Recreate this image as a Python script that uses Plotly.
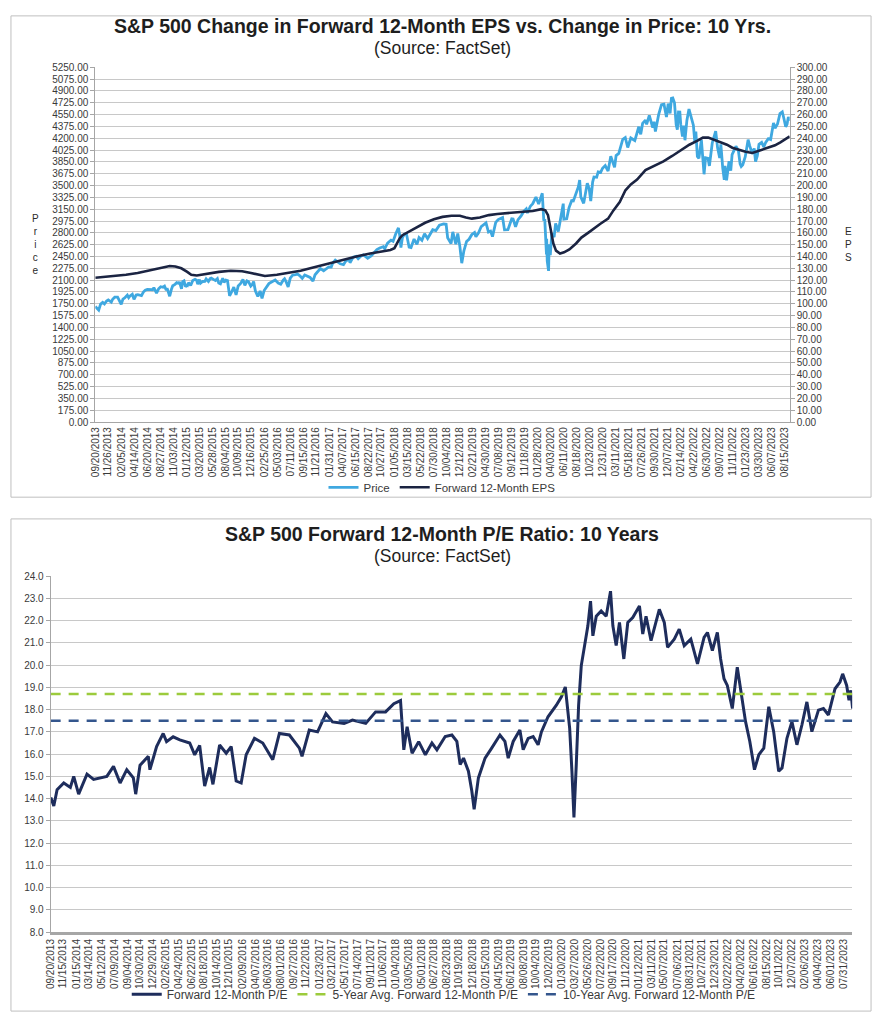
import pandas as pd
import plotly.graph_objects as go

# ---------------- data ----------------
TOP_TICKS = ["09/20/2013", "11/26/2013", "02/05/2014", "04/14/2014", "06/20/2014", "08/27/2014",
             "11/03/2014", "01/12/2015", "03/20/2015", "05/28/2015", "08/04/2015", "10/09/2015",
             "12/16/2015", "02/25/2016", "05/03/2016", "07/11/2016", "09/15/2016", "11/21/2016",
             "01/31/2017", "04/07/2017", "06/15/2017", "08/22/2017", "10/27/2017", "01/05/2018",
             "03/15/2018", "05/22/2018", "07/30/2018", "10/04/2018", "12/12/2018", "02/21/2019",
             "04/30/2019", "07/08/2019", "09/12/2019", "11/18/2019", "01/28/2020", "04/03/2020",
             "06/11/2020", "08/18/2020", "10/23/2020", "12/31/2020", "03/11/2021", "05/18/2021",
             "07/26/2021", "09/30/2021", "12/07/2021", "02/14/2022", "04/22/2022", "06/30/2022",
             "09/07/2022", "11/11/2022", "01/23/2023", "03/30/2023", "06/07/2023", "08/15/2023"]

BOTTOM_TICKS = ["09/20/2013", "11/15/2013", "01/15/2014", "03/14/2014", "05/12/2014", "07/09/2014",
                "09/04/2014", "10/30/2014", "12/29/2014", "02/26/2015", "04/24/2015", "06/22/2015",
                "08/18/2015", "10/14/2015", "12/10/2015", "02/09/2016", "04/07/2016", "06/03/2016",
                "08/01/2016", "09/27/2016", "11/22/2016", "01/23/2017", "03/21/2017", "05/17/2017",
                "07/14/2017", "09/11/2017", "11/06/2017", "01/04/2018", "03/05/2018", "05/01/2018",
                "06/27/2018", "08/23/2018", "10/19/2018", "12/18/2018", "02/15/2019", "04/15/2019",
                "06/12/2019", "08/08/2019", "10/04/2019", "12/02/2019", "01/30/2020", "03/27/2020",
                "05/26/2020", "07/22/2020", "09/17/2020", "11/12/2020", "01/12/2021", "03/11/2021",
                "05/07/2021", "07/06/2021", "08/31/2021", "10/27/2021", "12/23/2021", "02/22/2022",
                "04/20/2022", "06/16/2022", "08/15/2022", "10/11/2022", "12/07/2022", "02/06/2023",
                "04/04/2023", "06/01/2023", "07/31/2023"]

price_points = [
    ("2013-09-20", 1710), ("2013-09-30", 1682), ("2013-10-08", 1656), ("2013-10-18", 1745), ("2013-10-29", 1771),
    ("2013-11-07", 1748), ("2013-11-18", 1792), ("2013-11-27", 1807), ("2013-12-05", 1785), ("2013-12-13", 1775),
    ("2013-12-20", 1818), ("2013-12-31", 1848),
    ("2014-01-15", 1848), ("2014-01-24", 1790), ("2014-02-03", 1741), ("2014-02-12", 1819), ("2014-02-21", 1836),
    ("2014-03-07", 1878), ("2014-03-14", 1841), ("2014-03-21", 1866), ("2014-04-02", 1890), ("2014-04-11", 1815),
    ("2014-04-22", 1879), ("2014-05-01", 1884), ("2014-05-09", 1878), ("2014-05-20", 1872), ("2014-05-30", 1924),
    ("2014-06-09", 1951), ("2014-06-20", 1963), ("2014-06-30", 1960), ("2014-07-08", 1963), ("2014-07-17", 1958),
    ("2014-07-24", 1988), ("2014-08-01", 1925), ("2014-08-07", 1909), ("2014-08-18", 1971), ("2014-08-29", 2003),
    ("2014-09-10", 1995), ("2014-09-18", 2011), ("2014-09-25", 1965), ("2014-10-03", 1967), ("2014-10-10", 1906),
    ("2014-10-15", 1862), ("2014-10-24", 1964), ("2014-10-31", 2018), ("2014-11-12", 2038), ("2014-11-21", 2063),
    ("2014-12-01", 2054), ("2014-12-05", 2075), ("2014-12-16", 1972), ("2014-12-22", 2078), ("2014-12-29", 2090),
    ("2015-01-06", 2003), ("2015-01-13", 2023), ("2015-01-16", 2019), ("2015-01-22", 2063), ("2015-02-02", 2020),
    ("2015-02-13", 2096), ("2015-02-25", 2113), ("2015-03-05", 2101), ("2015-03-11", 2040), ("2015-03-20", 2108),
    ("2015-03-26", 2056), ("2015-04-06", 2080), ("2015-04-17", 2081), ("2015-04-24", 2117), ("2015-05-06", 2080),
    ("2015-05-15", 2122), ("2015-05-21", 2131), ("2015-06-01", 2111), ("2015-06-12", 2094), ("2015-06-22", 2122),
    ("2015-06-29", 2057), ("2015-07-08", 2046), ("2015-07-20", 2128), ("2015-07-27", 2068), ("2015-08-05", 2100),
    ("2015-08-14", 2092), ("2015-08-21", 1971), ("2015-08-25", 1867), ("2015-09-04", 1921), ("2015-09-16", 1996),
    ("2015-09-28", 1881), ("2015-10-09", 2014), ("2015-10-22", 2052), ("2015-11-03", 2109), ("2015-11-13", 2023),
    ("2015-11-24", 2089), ("2015-12-02", 2080), ("2015-12-09", 2047), ("2015-12-14", 2013), ("2015-12-22", 2038),
    ("2015-12-29", 2078),
    ("2016-01-07", 1943), ("2016-01-15", 1880), ("2016-01-20", 1859), ("2016-02-01", 1940), ("2016-02-11", 1829),
    ("2016-02-22", 1946), ("2016-03-04", 2000), ("2016-03-18", 2049), ("2016-04-01", 2073), ("2016-04-20", 2102),
    ("2016-05-06", 2057), ("2016-05-19", 2040), ("2016-06-01", 2100), ("2016-06-08", 2119), ("2016-06-16", 2077),
    ("2016-06-27", 2000), ("2016-07-08", 2130), ("2016-07-20", 2173), ("2016-08-05", 2183), ("2016-08-15", 2190),
    ("2016-08-26", 2169), ("2016-09-09", 2127), ("2016-09-22", 2177), ("2016-10-06", 2160), ("2016-10-20", 2141),
    ("2016-11-04", 2085), ("2016-11-15", 2180), ("2016-11-25", 2213), ("2016-12-13", 2271), ("2016-12-30", 2239),
    ("2017-01-13", 2274), ("2017-01-26", 2296), ("2017-02-08", 2294), ("2017-02-15", 2349), ("2017-03-01", 2396),
    ("2017-03-14", 2365), ("2017-03-27", 2342), ("2017-04-13", 2329), ("2017-04-26", 2387), ("2017-05-15", 2402),
    ("2017-05-17", 2357), ("2017-06-02", 2439), ("2017-06-19", 2453), ("2017-06-29", 2419), ("2017-07-14", 2459),
    ("2017-07-27", 2475), ("2017-08-10", 2438), ("2017-08-18", 2425), ("2017-09-05", 2457), ("2017-09-20", 2508),
    ("2017-10-05", 2552), ("2017-10-20", 2575), ("2017-11-08", 2594), ("2017-11-15", 2564), ("2017-11-30", 2648),
    ("2017-12-18", 2690), ("2017-12-29", 2674),
    ("2018-01-12", 2786), ("2018-01-26", 2873), ("2018-02-02", 2762), ("2018-02-08", 2581), ("2018-02-16", 2732),
    ("2018-02-26", 2780), ("2018-03-09", 2786), ("2018-03-23", 2588), ("2018-04-02", 2582), ("2018-04-18", 2708),
    ("2018-05-03", 2630), ("2018-05-14", 2730), ("2018-05-29", 2690), ("2018-06-12", 2787), ("2018-06-28", 2716),
    ("2018-07-13", 2801), ("2018-07-25", 2846), ("2018-08-10", 2833), ("2018-08-29", 2914), ("2018-09-20", 2931),
    ("2018-10-03", 2926), ("2018-10-11", 2728), ("2018-10-29", 2641), ("2018-11-07", 2814), ("2018-11-23", 2633),
    ("2018-12-03", 2790), ("2018-12-14", 2600), ("2018-12-24", 2351),
    ("2019-01-04", 2532), ("2019-01-18", 2671), ("2019-01-31", 2704), ("2019-02-15", 2776), ("2019-03-01", 2804),
    ("2019-03-08", 2743), ("2019-03-22", 2801), ("2019-04-05", 2893), ("2019-04-23", 2934), ("2019-04-30", 2946),
    ("2019-05-13", 2812), ("2019-05-24", 2826), ("2019-06-03", 2744), ("2019-06-20", 2954), ("2019-07-03", 2996),
    ("2019-07-26", 3025), ("2019-08-05", 2844), ("2019-08-14", 2840), ("2019-08-23", 2847), ("2019-09-12", 3009),
    ("2019-09-19", 3006), ("2019-10-02", 2888), ("2019-10-15", 2996), ("2019-10-30", 3046), ("2019-11-15", 3120),
    ("2019-11-27", 3153), ("2019-12-03", 3093), ("2019-12-18", 3191), ("2019-12-31", 3231),
    ("2020-01-17", 3330), ("2020-01-31", 3225), ("2020-02-19", 3386), ("2020-02-27", 2979), ("2020-03-03", 3003),
    ("2020-03-09", 2747), ("2020-03-12", 2481), ("2020-03-13", 2711), ("2020-03-16", 2386), ("2020-03-23", 2237),
    ("2020-03-26", 2630), ("2020-04-01", 2471), ("2020-04-09", 2790), ("2020-04-21", 2737), ("2020-04-29", 2940),
    ("2020-05-13", 2820), ("2020-05-27", 3036), ("2020-06-08", 3232), ("2020-06-11", 3002), ("2020-06-26", 3009),
    ("2020-07-08", 3170), ("2020-07-22", 3276), ("2020-07-31", 3271), ("2020-08-14", 3373), ("2020-08-26", 3479),
    ("2020-09-02", 3580), ("2020-09-08", 3332), ("2020-09-23", 3237), ("2020-10-12", 3534), ("2020-10-22", 3453),
    ("2020-10-30", 3270), ("2020-11-09", 3551), ("2020-11-16", 3627), ("2020-11-30", 3622), ("2020-12-08", 3702),
    ("2020-12-21", 3694), ("2020-12-31", 3756),
    ("2021-01-14", 3795), ("2021-01-29", 3714), ("2021-02-12", 3934), ("2021-03-04", 3768), ("2021-03-12", 3943),
    ("2021-03-26", 3975), ("2021-04-16", 4185), ("2021-04-29", 4211), ("2021-05-12", 4063), ("2021-05-28", 4204),
    ("2021-06-18", 4166), ("2021-06-29", 4291), ("2021-07-09", 4370), ("2021-07-19", 4258), ("2021-07-29", 4419),
    ("2021-08-13", 4468), ("2021-08-19", 4405), ("2021-09-02", 4537), ("2021-09-20", 4358), ("2021-09-27", 4443),
    ("2021-10-04", 4300), ("2021-10-21", 4549), ("2021-11-05", 4697), ("2021-11-18", 4704), ("2021-11-30", 4567),
    ("2021-12-01", 4513), ("2021-12-10", 4712), ("2021-12-20", 4568), ("2021-12-27", 4791),
    ("2022-01-03", 4796), ("2022-01-12", 4726), ("2022-01-21", 4398), ("2022-01-27", 4327), ("2022-02-02", 4589),
    ("2022-02-09", 4587), ("2022-02-14", 4401), ("2022-02-23", 4225), ("2022-03-02", 4387), ("2022-03-08", 4170),
    ("2022-03-18", 4463), ("2022-03-29", 4631), ("2022-04-13", 4447), ("2022-04-21", 4394), ("2022-04-29", 4132),
    ("2022-05-04", 4300), ("2022-05-12", 3930), ("2022-05-20", 3901), ("2022-06-02", 4176), ("2022-06-10", 3901),
    ("2022-06-16", 3667), ("2022-06-24", 3912), ("2022-07-07", 3902), ("2022-07-14", 3790), ("2022-07-29", 4130),
    ("2022-08-16", 4305), ("2022-08-26", 4058), ("2022-09-06", 3908), ("2022-09-12", 4110), ("2022-09-22", 3758),
    ("2022-09-30", 3586), ("2022-10-04", 3791), ("2022-10-12", 3577), ("2022-10-25", 3859), ("2022-11-03", 3720),
    ("2022-11-10", 3956), ("2022-11-30", 4080), ("2022-12-13", 4019), ("2022-12-22", 3822), ("2022-12-28", 3783),
    ("2023-01-05", 3808), ("2023-01-18", 3928), ("2023-01-27", 4071), ("2023-02-02", 4179), ("2023-02-10", 4090),
    ("2023-02-24", 3970), ("2023-03-06", 4048), ("2023-03-13", 3855), ("2023-03-22", 3937), ("2023-03-31", 4109),
    ("2023-04-14", 4138), ("2023-04-25", 4071), ("2023-05-05", 4136), ("2023-05-19", 4192), ("2023-05-31", 4180),
    ("2023-06-15", 4426), ("2023-06-23", 4348), ("2023-07-06", 4411), ("2023-07-19", 4565), ("2023-07-31", 4589),
    ("2023-08-08", 4499), ("2023-08-18", 4370), ("2023-08-25", 4406), ("2023-09-01", 4516), ("2023-09-08", 4457),
]

eps_points = [
    ("2013-09-20", 122.0), ("2013-10-31", 122.5), ("2013-12-31", 123.5), ("2014-02-28", 124.5),
    ("2014-04-30", 126.0), ("2014-06-30", 128.0), ("2014-08-29", 130.5), ("2014-10-15", 132.0),
    ("2014-11-14", 131.5), ("2014-12-15", 130.0), ("2015-01-15", 127.0), ("2015-02-05", 124.5),
    ("2015-03-06", 124.0), ("2015-04-30", 125.5), ("2015-06-30", 127.0), ("2015-08-31", 128.0),
    ("2015-10-30", 127.5), ("2015-12-15", 126.0), ("2016-01-29", 124.5), ("2016-02-26", 123.5),
    ("2016-04-29", 124.5), ("2016-06-30", 126.0), ("2016-08-31", 128.0), ("2016-10-31", 130.5),
    ("2016-12-30", 133.0), ("2017-02-15", 135.5), ("2017-04-28", 138.0), ("2017-06-30", 140.5),
    ("2017-08-31", 142.5), ("2017-10-31", 144.0), ("2017-12-15", 145.5), ("2018-01-05", 147.0),
    ("2018-01-19", 151.0), ("2018-02-02", 155.5), ("2018-02-16", 158.0), ("2018-03-16", 160.5),
    ("2018-04-30", 164.0), ("2018-06-15", 168.5), ("2018-07-31", 171.5), ("2018-09-14", 173.5),
    ("2018-10-31", 174.5), ("2018-12-14", 174.5), ("2019-01-15", 173.0), ("2019-02-15", 172.0),
    ("2019-03-29", 173.0), ("2019-05-15", 175.0), ("2019-06-28", 176.0), ("2019-08-30", 177.0),
    ("2019-10-31", 178.0), ("2019-12-31", 178.5), ("2020-02-14", 180.0), ("2020-03-06", 179.0),
    ("2020-03-20", 175.0), ("2020-04-03", 162.0), ("2020-04-17", 151.0), ("2020-05-01", 145.0),
    ("2020-05-22", 142.5), ("2020-06-12", 143.5), ("2020-07-10", 146.0), ("2020-08-14", 151.0),
    ("2020-09-11", 156.0), ("2020-10-16", 160.0), ("2020-11-20", 164.5), ("2020-12-18", 167.5),
    ("2021-01-29", 172.0), ("2021-02-26", 179.0), ("2021-03-31", 186.0), ("2021-04-30", 196.0),
    ("2021-05-28", 201.0), ("2021-06-30", 205.0), ("2021-08-13", 213.0), ("2021-09-30", 216.5),
    ("2021-11-15", 220.5), ("2021-12-31", 225.0), ("2022-02-15", 230.0), ("2022-03-31", 234.5),
    ("2022-05-13", 238.0), ("2022-06-10", 240.5), ("2022-07-08", 240.5), ("2022-08-12", 238.5),
    ("2022-09-09", 237.0), ("2022-10-14", 234.5), ("2022-11-11", 232.0), ("2022-12-16", 230.0),
    ("2023-01-20", 228.5), ("2023-02-24", 227.5), ("2023-03-24", 229.0), ("2023-04-28", 230.5),
    ("2023-05-26", 232.0), ("2023-06-23", 234.0), ("2023-07-21", 236.5), ("2023-08-18", 239.0),
    ("2023-09-08", 241.5),
]

# (decimal year, forward P/E)
pe_points = [
    (2013.720, 14.05), (2013.757, 13.67), (2013.798, 14.40), (2013.881, 14.70), (2013.963, 14.50),
    (2014.005, 15.00), (2014.066, 14.20), (2014.170, 15.10), (2014.252, 14.86), (2014.417, 15.00),
    (2014.500, 15.45), (2014.582, 14.70), (2014.665, 15.30), (2014.747, 14.93), (2014.776, 14.20),
    (2014.830, 15.50), (2014.933, 15.90), (2014.953, 15.30), (2015.036, 16.34), (2015.118, 16.93),
    (2015.160, 16.56), (2015.242, 16.78), (2015.325, 16.64), (2015.448, 16.50), (2015.510, 15.97),
    (2015.572, 16.39), (2015.634, 14.56), (2015.696, 15.40), (2015.737, 14.64), (2015.820, 16.41),
    (2015.902, 16.04), (2015.964, 16.34), (2016.026, 14.79), (2016.088, 14.70), (2016.150, 15.97),
    (2016.253, 16.71), (2016.356, 16.50), (2016.480, 15.75), (2016.562, 16.93), (2016.686, 16.86),
    (2016.810, 16.27), (2016.843, 15.90), (2016.933, 17.08), (2017.036, 17.00), (2017.140, 17.82),
    (2017.222, 17.45), (2017.366, 17.38), (2017.470, 17.53), (2017.635, 17.38), (2017.758, 17.90),
    (2017.882, 17.90), (2017.985, 18.27), (2018.068, 18.41), (2018.088, 17.16), (2018.109, 16.19),
    (2018.150, 17.23), (2018.212, 16.04), (2018.294, 16.56), (2018.377, 15.97), (2018.459, 16.50),
    (2018.521, 16.19), (2018.624, 16.79), (2018.707, 16.86), (2018.769, 16.57), (2018.810, 15.53),
    (2018.852, 15.82), (2018.913, 15.23), (2018.955, 14.34), (2018.984, 13.52), (2019.037, 14.93),
    (2019.120, 15.82), (2019.202, 16.27), (2019.305, 16.86), (2019.367, 16.57), (2019.408, 15.82),
    (2019.470, 16.57), (2019.553, 17.09), (2019.594, 16.20), (2019.656, 16.71), (2019.718, 16.79),
    (2019.780, 16.42), (2019.821, 17.00), (2019.903, 17.68), (2020.007, 18.20), (2020.068, 18.57),
    (2020.118, 19.02), (2020.143, 18.20), (2020.172, 17.16), (2020.200, 15.23), (2020.225, 13.15),
    (2020.254, 15.53), (2020.283, 18.20), (2020.316, 19.98), (2020.357, 20.88), (2020.398, 21.77),
    (2020.431, 22.88), (2020.460, 21.32), (2020.502, 22.20), (2020.563, 22.44), (2020.625, 22.20),
    (2020.679, 23.33), (2020.708, 21.77), (2020.749, 20.88), (2020.790, 21.92), (2020.844, 20.28),
    (2020.893, 21.92), (2020.955, 22.14), (2021.038, 22.66), (2021.079, 21.40), (2021.120, 22.20),
    (2021.182, 21.10), (2021.285, 22.51), (2021.347, 21.92), (2021.388, 20.80), (2021.471, 21.17),
    (2021.533, 21.62), (2021.595, 20.88), (2021.677, 21.17), (2021.760, 20.06), (2021.842, 21.25),
    (2021.884, 21.47), (2021.945, 20.65), (2022.007, 21.47), (2022.048, 20.28), (2022.090, 19.39),
    (2022.131, 19.09), (2022.193, 18.05), (2022.255, 19.91), (2022.296, 18.94), (2022.358, 17.46),
    (2022.411, 16.57), (2022.469, 15.30), (2022.523, 15.97), (2022.585, 16.27), (2022.647, 18.13),
    (2022.708, 17.01), (2022.770, 15.23), (2022.812, 15.38), (2022.873, 16.71), (2022.935, 17.46),
    (2022.997, 16.42), (2023.059, 17.31), (2023.121, 18.35), (2023.183, 17.01), (2023.265, 17.98),
    (2023.327, 18.05), (2023.389, 17.76), (2023.471, 18.94), (2023.533, 19.24), (2023.566, 19.61),
    (2023.616, 19.09), (2023.645, 18.42), (2023.668, 18.87), (2023.690, 18.05),
]

PE_5Y_AVG = 18.7
PE_10Y_AVG = 17.5


# ---------------- helpers ----------------
def year_to_date(y):
    yr = int(y)
    start = pd.Timestamp(yr, 1, 1)
    length = (pd.Timestamp(yr + 1, 1, 1) - start).days
    return start + pd.Timedelta(days=(y - yr) * length)


price_x = pd.to_datetime([d for d, _ in price_points])
price_y = [v for _, v in price_points]
eps_x = pd.to_datetime([d for d, _ in eps_points])
eps_y = [v for _, v in eps_points]
pe_x = [year_to_date(y) for y, _ in pe_points]
pe_y = [v for _, v in pe_points]

x_start = price_x.min()
x_end = price_x.max()

top_tick_vals = pd.to_datetime(TOP_TICKS, format="%m/%d/%Y")
bot_tick_vals = pd.to_datetime(BOTTOM_TICKS, format="%m/%d/%Y")

FONT = "Liberation Sans, Arial, sans-serif"
GRID = "#C8C8C8"
AXC = "#A6A6A6"
TXT = "#3A3A3A"
TITLE_C = "#1E1E1E"
PRICE_C = "#3FA8E0"
EPS_C = "#1B2442"
PE_C = "#1E2D5C"
AVG5_C = "#9CCB3C"
AVG10_C = "#34568D"

fig = go.Figure()

fig.add_trace(go.Scatter(x=price_x, y=price_y, name="Price", mode="lines",
                         line=dict(color=PRICE_C, width=2.8), xaxis="x", yaxis="y",
                         legend="legend"))
fig.add_trace(go.Scatter(x=eps_x, y=eps_y, name="Forward 12-Month EPS", mode="lines",
                         line=dict(color=EPS_C, width=2.6), xaxis="x", yaxis="y2",
                         legend="legend"))

fig.add_trace(go.Scatter(x=pe_x, y=pe_y, name="Forward 12-Month P/E", mode="lines",
                         line=dict(color=PE_C, width=3), xaxis="x2", yaxis="y3",
                         legend="legend2"))
fig.add_trace(go.Scatter(x=[x_start, x_end], y=[PE_5Y_AVG, PE_5Y_AVG],
                         name="5-Year Avg. Forward 12-Month P/E", mode="lines",
                         line=dict(color=AVG5_C, width=2.5, dash="10px,8px"),
                         xaxis="x2", yaxis="y3", legend="legend2"))
fig.add_trace(go.Scatter(x=[x_start, x_end], y=[PE_10Y_AVG, PE_10Y_AVG],
                         name="10-Year Avg. Forward 12-Month P/E", mode="lines",
                         line=dict(color=AVG10_C, width=2.5, dash="10px,8px"),
                         xaxis="x2", yaxis="y3", legend="legend2"))

W, H = 879, 1024


def px_x(p):
    return p / W


def px_y(p):
    return 1 - p / H


tickfont = dict(family=FONT, size=10, color=TXT)

fig.update_layout(
    width=W, height=H,
    margin=dict(l=0, r=0, t=0, b=0),
    paper_bgcolor="white", plot_bgcolor="white",
    font=dict(family=FONT, size=10, color=TXT),
    hovermode=False,
    xaxis=dict(domain=[px_x(90), px_x(790)], anchor="y", type="date",
               range=[x_start, x_end], tickmode="array", tickvals=top_tick_vals,
               ticktext=TOP_TICKS, tickangle=-90, tickfont=tickfont, showgrid=False,
               showline=True, linecolor=AXC, linewidth=1, ticks="", zeroline=False),
    yaxis=dict(domain=[px_y(421), px_y(62)], anchor="x", range=[0, 5250], tick0=0, dtick=175,
               tickformat=".2f", tickfont=tickfont, showgrid=True, gridcolor=GRID, gridwidth=1,
               showline=True, linecolor=AXC, ticks="outside", ticklen=4, tickcolor=AXC,
               zeroline=False),
    yaxis2=dict(overlaying="y", side="right", anchor="x", range=[0, 300], tick0=0, dtick=10,
                tickformat=".2f", tickfont=tickfont, showgrid=False, showline=True,
                linecolor=AXC, ticks="outside", ticklen=4, tickcolor=AXC, zeroline=False),
    xaxis2=dict(domain=[px_x(45), px_x(853)], anchor="y3", type="date",
                range=[x_start, x_end], tickmode="array", tickvals=bot_tick_vals,
                ticktext=BOTTOM_TICKS, tickangle=-90, tickfont=tickfont, showgrid=False,
                showline=True, linecolor=AXC, linewidth=3, ticks="", zeroline=False),
    yaxis3=dict(domain=[px_y(937), px_y(577)], anchor="x2", range=[8, 24], tick0=8, dtick=1,
                tickformat=".1f", tickfont=tickfont, showgrid=True, gridcolor=GRID, gridwidth=1,
                showline=True, linecolor=AXC, ticks="outside", ticklen=4, tickcolor=AXC,
                zeroline=False),
    legend=dict(orientation="h", x=0.5, xanchor="center", y=px_y(487), yanchor="middle",
                font=dict(family=FONT, size=11.5, color=TXT), bgcolor="rgba(0,0,0,0)",
                itemwidth=30, tracegroupgap=0),
    legend2=dict(orientation="h", x=0.502, xanchor="center", y=px_y(1000), yanchor="middle",
                 font=dict(family=FONT, size=12, color=TXT), bgcolor="rgba(0,0,0,0)",
                 itemwidth=30),
)

# panel borders
for top, bottom in [(10, 497), (519, 1017)]:
    fig.add_shape(type="rect", xref="paper", yref="paper",
                  x0=px_x(5), x1=px_x(872), y0=px_y(bottom), y1=px_y(top),
                  line=dict(color="#BFBFBF", width=1), fillcolor="rgba(0,0,0,0)", layer="below")

annots = [
    dict(text="<b>S&P 500 Change in Forward 12-Month EPS vs. Change in Price: 10 Yrs.</b>",
         x=px_x(440), y=px_y(20), size=19.5),
    dict(text="(Source: FactSet)", x=px_x(440), y=px_y(42), size=17.5),
    dict(text="<b>S&P 500 Forward 12-Month P/E Ratio: 10 Years</b>",
         x=px_x(439), y=px_y(534), size=19.5),
    dict(text="(Source: FactSet)", x=px_x(440), y=px_y(557), size=17.5),
]
for a in annots:
    fig.add_annotation(text=a["text"], x=a["x"], y=a["y"], xref="paper", yref="paper",
                       showarrow=False, xanchor="center", yanchor="middle",
                       font=dict(family=FONT, size=a["size"], color=TITLE_C))

fig.add_annotation(text="P<br>r<br>i<br>c<br>e", x=px_x(30), y=px_y(241.5), xref="paper",
                   yref="paper", showarrow=False, xanchor="center", yanchor="middle",
                   font=dict(family=FONT, size=10, color="#2A2A2A"))
fig.add_annotation(text="E<br>P<br>S", x=px_x(849), y=px_y(241.5), xref="paper",
                   yref="paper", showarrow=False, xanchor="center", yanchor="middle",
                   font=dict(family=FONT, size=10, color="#2A2A2A"))

fig.write_html(
    "out.html",
    config={"displayModeBar": False},
    post_script="document.body.style.margin='0';document.body.style.overflow='hidden';",
)
